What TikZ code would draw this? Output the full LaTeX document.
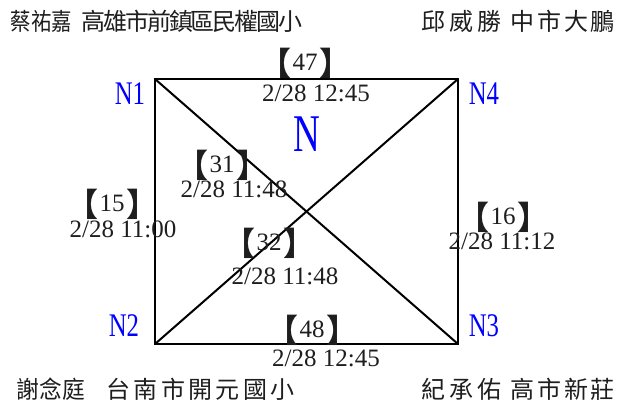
\documentclass[tikz,border=0pt]{standalone}
\usepackage{fontspec}
\setmainfont{Liberation Serif}
\newfontfamily\cjk{Noto Sans CJK TC}
\definecolor{nblue}{RGB}{0,0,255}
\definecolor{txtgray}{RGB}{30,30,30}
\newcommand\brk[1]{\raisebox{-4.5pt}{\cjk\bfseries\fontsize{32}{32}\selectfont 【}\kern1.5pt#1\kern1.5pt\raisebox{-4.5pt}{\cjk\bfseries\fontsize{32}{32}\selectfont 】}}
\newcommand\nlabel[1]{\scalebox{0.75}[1]{#1}}
\begin{document}
\begin{tikzpicture}[x=1pt,y=-1pt,
  edge/.style={line width=2pt, line join=miter},
  corner/.style={text=nblue, inner sep=0, anchor=base, font=\fontsize{33}{33}\selectfont},
  datelab/.style={inner sep=0, anchor=base, text=txtgray, font=\fontsize{25}{25}\selectfont},
  brlab/.style={inner sep=0, anchor=base, text=txtgray, font=\fontsize{25}{25}\selectfont},
  names/.style={inner sep=0, anchor=base west, text=txtgray, font=\cjk\fontsize{24}{24}\selectfont}]
\useasboundingbox (0,0) rectangle (619,403);
% corners
\coordinate (c1) at (155,79);
\coordinate (c4) at (458,79);
\coordinate (c2) at (155,344);
\coordinate (c3) at (458,344);
\draw[edge] (c1) -- (c4) -- (c3) -- (c2) -- cycle;
\draw[edge] (c1) -- (c3);
\draw[edge] (c2) -- (c4);
% corner labels
\node[corner] (n1) at (130,105) {\nlabel{N1}};
\node[corner] (n4) at (484,105) {\nlabel{N4}};
\node[corner] (n2) at (124,337) {\nlabel{N2}};
\node[corner] (n3) at (484,337) {\nlabel{N3}};
\node[corner, font=\fontsize{53}{53}\selectfont] (north) at (307,152) {\scalebox{0.7}[1]{N}};
% edge labels
\node[brlab] (b47) at (305,71) {\brk{47}};
\node[datelab] (d47) at (316,102) {2/28 12:45};
\node[brlab] (b31) at (222,173) {\brk{31}};
\node[datelab] (d31) at (234,198) {2/28 11:48};
\node[brlab] (b15) at (112,212) {\brk{15}};
\node[datelab] (d15) at (123,238) {2/28 11:00};
\node[brlab] (b32) at (269,251) {\brk{32}};
\node[datelab] (d32) at (285,285) {2/28 11:48};
\node[brlab] (b16) at (503,225) {\brk{16}};
\node[datelab] (d16) at (502,250) {2/28 11:12};
\node[brlab] (b48) at (312,338) {\brk{48}};
\node[datelab] (d48) at (326,367) {2/28 12:45};
% names
\node[names] (tl) at (10.5,30.5) {\scalebox{0.85}[1]{蔡祐嘉}\kern9.5pt 高\kern-2.1pt 雄\kern-2.1pt 市\kern-2.1pt 前\kern-2.1pt 鎮\kern-2.1pt 區\kern-2.1pt 民\kern-2.1pt 權\kern-2.1pt 國\kern-2.1pt 小};
\node[names] (tr) at (421.25,30.5) {邱\kern4.25pt 威\kern4.25pt 勝\kern8.5pt 中\kern2.8pt 市\kern2.8pt 大\kern2.8pt 鵬};
\node[names] (bl) at (16.3,399) {\scalebox{0.95}[1]{謝念庭}\kern21.5pt 台\kern3.4pt 南\kern3.4pt 市\kern3.4pt 開\kern3.4pt 元\kern3.4pt 國\kern3.4pt 小};
\node[names] (br) at (421.25,399) {紀\kern4.25pt 承\kern4.25pt 佑\kern8.5pt 高\kern2.8pt 市\kern2.8pt 新\kern2.8pt 莊};
\end{tikzpicture}
\end{document}
